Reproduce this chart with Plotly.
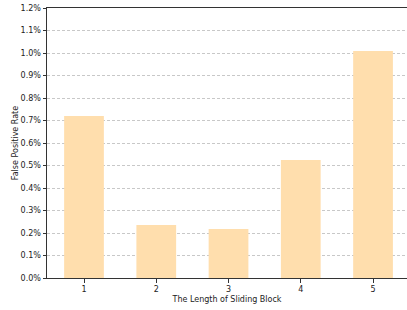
import plotly.graph_objects as go

categories = [1, 2, 3, 4, 5]
fpr = [0.0072, 0.00236, 0.00218, 0.00524, 0.01009]
y_ticks = [i / 1000 for i in range(0, 13)]
y_tick_labels = [f"{v*100:.1f}%" for v in y_ticks]

fig = go.Figure()
fig.add_trace(go.Bar(x=categories, y=fpr, width=0.55,
                     marker=dict(color="#FFDEAD", line=dict(width=0))))

axis_color = "#333333"
fig.update_layout(
    width=407, height=310,
    margin=dict(l=47, r=0, t=8, b=32, autoexpand=False),
    paper_bgcolor="white", plot_bgcolor="white",
    font=dict(family="DejaVu Sans", size=8, color="#222222"),
    showlegend=False,
    xaxis=dict(range=[0.488, 5.47], tickvals=categories, ticktext=[str(c) for c in categories],
               showline=True, linecolor=axis_color, linewidth=1, mirror=True,
               ticks="outside", ticklen=3.5, tickcolor=axis_color, showgrid=False,
               zeroline=False, automargin=False,
               title=dict(text="The Length of Sliding Block", font=dict(size=8), standoff=3)),
    yaxis=dict(range=[0, 0.012], tickvals=y_ticks, ticktext=y_tick_labels,
               showline=True, linecolor=axis_color, linewidth=1,
               ticks="outside", ticklen=3.5, tickcolor=axis_color,
               showgrid=True, gridcolor="#c8c8c8", griddash="3px,2px", gridwidth=0.8,
               zeroline=False, automargin=False,
               title=dict(text="False Positive Rate", font=dict(size=8), standoff=0)),
)
fig.write_html("out.html", config={"displayModeBar": False},
               post_script="document.body.style.margin='0px';")
